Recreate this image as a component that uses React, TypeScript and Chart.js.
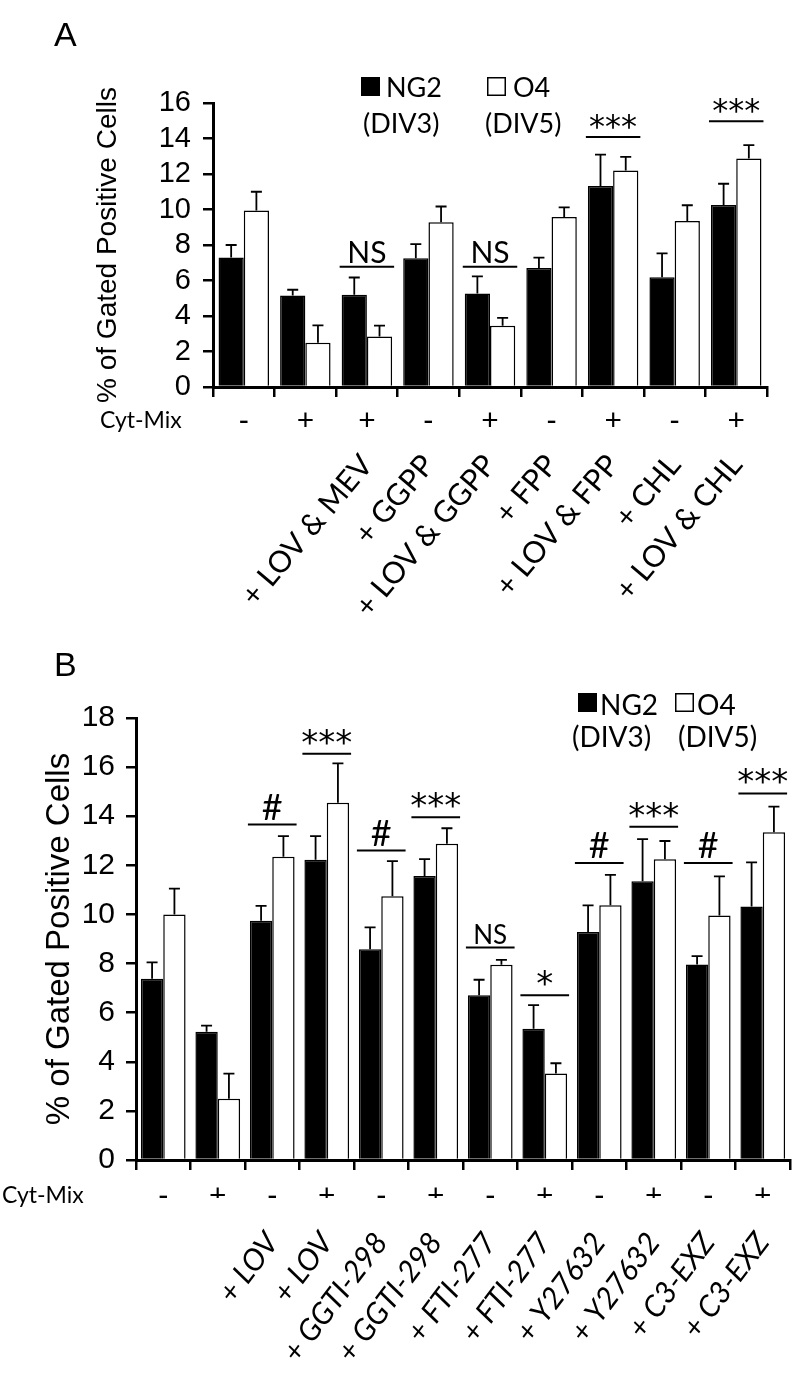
import React, { useEffect, useRef } from "react";
import { Chart, registerables } from "chart.js";

Chart.register(...registerables);

// ---------- shared ----------
const seriesNames = ["NG2", "O4"];
const seriesSubs = ["(DIV3)", "(DIV5)"];
const yTitle = "% of Gated Positive Cells";
const cytTitle = "Cyt-Mix";

// ---------- Panel A ----------
const cytA = ["-", "+", "+", "-", "+", "-", "+", "-", "+"];
const treatA = ["", "", "+ LOV & MEV", "+ GGPP", "+ LOV & GGPP", "+ FPP", "+ LOV & FPP", "+ CHL", "+ LOV & CHL"];
const ng2A = [7.3, 5.15, 5.2, 7.25, 5.27, 6.7, 11.32, 6.18, 10.26];
const ng2ErrA = [0.7, 0.33, 0.97, 0.8, 0.96, 0.59, 1.77, 1.35, 1.19];
const o4A = [9.95, 2.5, 2.85, 9.28, 3.45, 9.58, 12.2, 9.35, 12.88];
const o4ErrA = [1.05, 0.97, 0.61, 0.89, 0.45, 0.54, 0.76, 0.89, 0.75];
const sigGroupA = [2, 4, 6, 8];
const sigTextA = ["NS", "NS", "***", "***"];
const sigLevelA = [6.78, 6.78, 14.09, 14.97];
const yMaxA = 16;
const yStepA = 2;

// ---------- Panel B ----------
const cytB = ["-", "+", "-", "+", "-", "+", "-", "+", "-", "+", "-", "+"];
const treatB = ["", "", "+ LOV", "+ LOV", "+ GGTI-298", "+ GGTI-298", "+ FTI-277", "+ FTI-277", "+ Y27632", "+ Y27632", "+ C3-EXZ", "+ C3-EXZ"];
const ng2B = [7.38, 5.22, 9.74, 12.23, 8.58, 11.57, 6.71, 5.34, 9.29, 11.35, 7.96, 10.32];
const ng2ErrB = [0.67, 0.25, 0.61, 0.96, 0.89, 0.68, 0.63, 0.97, 1.08, 1.72, 0.34, 1.8];
const o4B = [10.0, 2.49, 12.35, 14.55, 10.74, 12.88, 7.95, 3.52, 10.37, 12.25, 9.96, 13.35];
const o4ErrB = [1.05, 1.03, 0.84, 1.6, 1.43, 0.63, 0.2, 0.42, 1.24, 0.74, 1.59, 1.04];
const sigGroupB = [2, 3, 4, 5, 6, 7, 8, 9, 10, 11];
const sigTextB = ["#", "***", "#", "***", "NS", "*", "#", "***", "#", "***"];
const sigLevelB = [13.66, 16.54, 12.6, 13.96, 8.65, 6.71, 12.09, 13.57, 12.09, 14.93];
const yMaxB = 18;
const yStepB = 2;

// ---------- styles ----------
const HUM = "Lato, 'Open Sans', sans-serif";
const ARIAL = "'Liberation Sans', Arial, Helvetica, sans-serif";
const NARROW = "'Liberation Sans Narrow', 'Liberation Sans', Arial, sans-serif";
const STAR = "'DejaVu Sans', sans-serif";

type SigStyle = { font: string; gap: number };
type Layout = {
  height: number;
  padTop: number;
  padRight: number;
  yWidth: number;
  xHeight: number;
  x2Height: number;
  cytPad: number;
  treatPad: number;
  treatRot: number;
  tickFont: any;
  tickPad: number;
  titleFont: any;
  titlePad: number;
  treatFont: any;
  cytFont: any;
  cytLabelX: number;
  cytLabelFont: string;
  letterX: number;
  letterY: number;
  legendFont: string;
  legend: { box: [number, number, number]; text: [number, number]; sub: [number, number] }[];
  sig: Record<string, SigStyle>;
};

type Panel = {
  letter: string;
  cyt: string[];
  treat: string[];
  ng2: number[];
  ng2Err: number[];
  o4: number[];
  o4Err: number[];
  sigGroup: number[];
  sigText: string[];
  sigLevel: number[];
  yMax: number;
  yStep: number;
  L: Layout;
};

const layoutA: Layout = {
  height: 650,
  padTop: 103,
  padRight: 33,
  yWidth: 213,
  xHeight: 40,
  x2Height: 223,
  cytPad: 6,
  treatPad: 21,
  treatRot: 50,
  tickFont: { family: ARIAL, size: 29 },
  tickPad: 12,
  titleFont: { family: ARIAL, size: 28 },
  titlePad: 91,
  treatFont: { family: HUM, size: 30 },
  cytFont: { family: HUM, size: 30 },
  cytLabelX: 100,
  cytLabelFont: `23px ${HUM}`,
  letterX: 54,
  letterY: 46,
  legendFont: `27px ${HUM}`,
  legend: [
    { box: [361, 77, 19], text: [386, 97], sub: [363, 133] },
    { box: [487, 77, 19], text: [513, 97], sub: [485, 133] },
  ],
  sig: {
    NS: { font: `30px ${HUM}`, gap: 4 },
    "***": { font: `32px ${STAR}`, gap: 0 },
  },
};

const layoutB: Layout = {
  height: 731,
  padTop: 68,
  padRight: 10,
  yWidth: 136,
  xHeight: 38,
  x2Height: 183,
  cytPad: 8,
  treatPad: 28,
  treatRot: 53,
  tickFont: { family: NARROW, size: 30 },
  tickPad: 11,
  titleFont: { family: ARIAL, size: 33 },
  titlePad: 40,
  treatFont: { family: HUM, size: 30, style: "italic" },
  cytFont: { family: HUM, size: 30 },
  cytLabelX: 2,
  cytLabelFont: `23px ${HUM}`,
  letterX: 54,
  letterY: 26,
  legendFont: `28px ${HUM}`,
  legend: [
    { box: [578, 43, 19], text: [600, 65], sub: [572, 97] },
    { box: [675, 43, 19], text: [697, 65], sub: [678, 97] },
  ],
  sig: {
    NS: { font: `26px ${HUM}`, gap: 4 },
    "#": { font: `36px ${HUM}`, gap: 5 },
    "***": { font: `34px ${STAR}`, gap: 0 },
    "*": { font: `34px ${STAR}`, gap: 0 },
  },
};

const panelA: Panel = {
  letter: "A",
  cyt: cytA,
  treat: treatA,
  ng2: ng2A,
  ng2Err: ng2ErrA,
  o4: o4A,
  o4Err: o4ErrA,
  sigGroup: sigGroupA,
  sigText: sigTextA,
  sigLevel: sigLevelA,
  yMax: yMaxA,
  yStep: yStepA,
  L: layoutA,
};

const panelB: Panel = {
  letter: "B",
  cyt: cytB,
  treat: treatB,
  ng2: ng2B,
  ng2Err: ng2ErrB,
  o4: o4B,
  o4Err: o4ErrB,
  sigGroup: sigGroupB,
  sigText: sigTextB,
  sigLevel: sigLevelB,
  yMax: yMaxB,
  yStep: yStepB,
  L: layoutB,
};

function decoPlugin(p: Panel) {
  return {
    id: "deco" + p.letter,
    afterDatasetsDraw(chart: any) {
      const ctx = chart.ctx as CanvasRenderingContext2D;
      const y = chart.scales.y;
      const m0 = chart.getDatasetMeta(0);
      const m1 = chart.getDatasetMeta(1);
      ctx.save();
      ctx.strokeStyle = "#000";
      ctx.fillStyle = "#000";
      ctx.lineWidth = 1.8;
      const sets: [any, number[], number[]][] = [
        [m0, p.ng2, p.ng2Err],
        [m1, p.o4, p.o4Err],
      ];
      sets.forEach(([meta, vals, errs]) => {
        meta.data.forEach((el: any, i: number) => {
          const top = y.getPixelForValue(vals[i] + errs[i]);
          const x = el.x;
          ctx.beginPath();
          ctx.moveTo(x, el.y);
          ctx.lineTo(x, top);
          ctx.moveTo(x - 5.5, top);
          ctx.lineTo(x + 5.5, top);
          ctx.stroke();
        });
      });
      ctx.lineWidth = 2;
      p.sigGroup.forEach((g, k) => {
        const a = m0.data[g];
        const b = m1.data[g];
        const left = a.x - a.width / 2 - 2;
        const right = b.x + b.width / 2 + 2;
        const ly = y.getPixelForValue(p.sigLevel[k]);
        ctx.beginPath();
        ctx.moveTo(left, ly);
        ctx.lineTo(right, ly);
        ctx.stroke();
        const st = p.L.sig[p.sigText[k]];
        ctx.font = st.font;
        ctx.textAlign = "center";
        ctx.textBaseline = "alphabetic";
        ctx.fillText(p.sigText[k], (left + right) / 2, ly - st.gap);
      });
      ctx.restore();
    },
    afterDraw(chart: any) {
      const ctx = chart.ctx as CanvasRenderingContext2D;
      const L = p.L;
      const xs = chart.scales.x;
      ctx.save();
      ctx.fillStyle = "#000";
      ctx.strokeStyle = "#000";
      // panel letter
      ctx.font = `34px ${ARIAL}`;
      ctx.textAlign = "left";
      ctx.textBaseline = "alphabetic";
      ctx.fillText(p.letter, L.letterX, L.letterY);
      // Cyt-Mix row title
      const lh = L.cytFont.size * 1.2;
      const rowY = xs.top + 10 + L.cytPad + lh / 2;
      ctx.font = L.cytLabelFont;
      ctx.textBaseline = "middle";
      ctx.fillText(cytTitle, L.cytLabelX, rowY);
      // legend
      ctx.textBaseline = "alphabetic";
      L.legend.forEach((lg, i) => {
        const ds = chart.data.datasets[i];
        const [bx, by, bs] = lg.box;
        ctx.fillStyle = ds.backgroundColor;
        ctx.fillRect(bx, by, bs, bs);
        if (i === 1) {
          ctx.lineWidth = 1.5;
          ctx.strokeRect(bx + 0.75, by + 0.75, bs - 1.5, bs - 1.5);
        }
        ctx.fillStyle = "#000";
        ctx.font = L.legendFont;
        ctx.fillText(ds.label, lg.text[0], lg.text[1]);
        ctx.fillText(seriesSubs[i], lg.sub[0], lg.sub[1]);
      });
      ctx.restore();
    },
  };
}

function makeChart(canvas: HTMLCanvasElement, p: Panel) {
  const L = p.L;
  return new Chart(canvas, {
    type: "bar",
    data: {
      labels: p.cyt,
      datasets: [
        {
          label: seriesNames[0],
          data: p.ng2,
          backgroundColor: "#000",
          borderColor: "#000",
          borderWidth: 1.5,
          categoryPercentage: 0.82,
          barPercentage: 1,
        },
        {
          label: seriesNames[1],
          data: p.o4,
          backgroundColor: "#fff",
          borderColor: "#000",
          borderWidth: 1.5,
          categoryPercentage: 0.82,
          barPercentage: 1,
        },
      ],
    },
    options: {
      responsive: false,
      maintainAspectRatio: false,
      animation: false,
      events: [],
      layout: { padding: { top: L.padTop, right: L.padRight, left: 0, bottom: 0 } },
      plugins: { legend: { display: false }, tooltip: { enabled: false } },
      scales: {
        x: {
          type: "category",
          position: "bottom",
          weight: 0,
          offset: true,
          grid: { offset: true, drawOnChartArea: false, drawTicks: true, tickLength: 10, color: "#000", lineWidth: 2.5 },
          border: { display: true, color: "#000", width: 3 },
          ticks: { color: "#000", font: L.cytFont, padding: L.cytPad, minRotation: 0, maxRotation: 0, autoSkip: false },
          afterFit: (s: any) => {
            s.height = L.xHeight;
            s.paddingLeft = 0;
            s.paddingRight = 0;
          },
        },
        x2: {
          type: "category",
          position: "bottom",
          weight: 1,
          offset: true,
          labels: p.treat,
          grid: { display: false, drawTicks: false },
          border: { display: false },
          ticks: {
            color: "#000",
            font: L.treatFont,
            padding: L.treatPad,
            minRotation: L.treatRot,
            maxRotation: L.treatRot,
            autoSkip: false,
          },
          afterFit: (s: any) => {
            s.height = L.x2Height;
            s.paddingLeft = 0;
            s.paddingRight = 0;
          },
        },
        y: {
          type: "linear",
          min: 0,
          max: p.yMax,
          ticks: { stepSize: p.yStep, autoSkip: false, color: "#000", font: L.tickFont, padding: L.tickPad },
          grid: { drawOnChartArea: false, drawTicks: true, tickLength: 10, color: "#000", lineWidth: 2.5 },
          border: { display: true, color: "#000", width: 3 },
          title: { display: true, text: yTitle, color: "#000", font: L.titleFont, padding: { top: L.titlePad, bottom: 0 } },
          afterFit: (s: any) => {
            s.width = L.yWidth;
          },
        },
      },
    } as any,
    plugins: [decoPlugin(p)],
  });
}

export default function App() {
  const refA = useRef<HTMLCanvasElement | null>(null);
  const refB = useRef<HTMLCanvasElement | null>(null);

  useEffect(() => {
    let alive = true;
    const charts: Chart[] = [];
    if (refA.current) charts.push(makeChart(refA.current, panelA));
    if (refB.current) charts.push(makeChart(refB.current, panelB));
    const fonts = [
      `26px Lato`,
      `italic 26px Lato`,
      `26px 'Liberation Sans'`,
      `26px 'Liberation Sans Narrow'`,
      `26px 'DejaVu Sans'`,
    ];
    Promise.all(fonts.map((f) => (document as any).fonts.load(f).catch(() => null))).then(() => {
      if (alive) charts.forEach((c) => c.update());
    });
    return () => {
      alive = false;
      charts.forEach((c) => c.destroy());
    };
  }, []);

  return (
    <div style={{ position: "absolute", left: 0, top: 0, width: 800, height: 1381, background: "#fff" }}>
      <canvas ref={refA} width={800} height={650} style={{ position: "absolute", left: 0, top: 0 }} />
      <canvas ref={refB} width={800} height={731} style={{ position: "absolute", left: 0, top: 650 }} />
    </div>
  );
}
